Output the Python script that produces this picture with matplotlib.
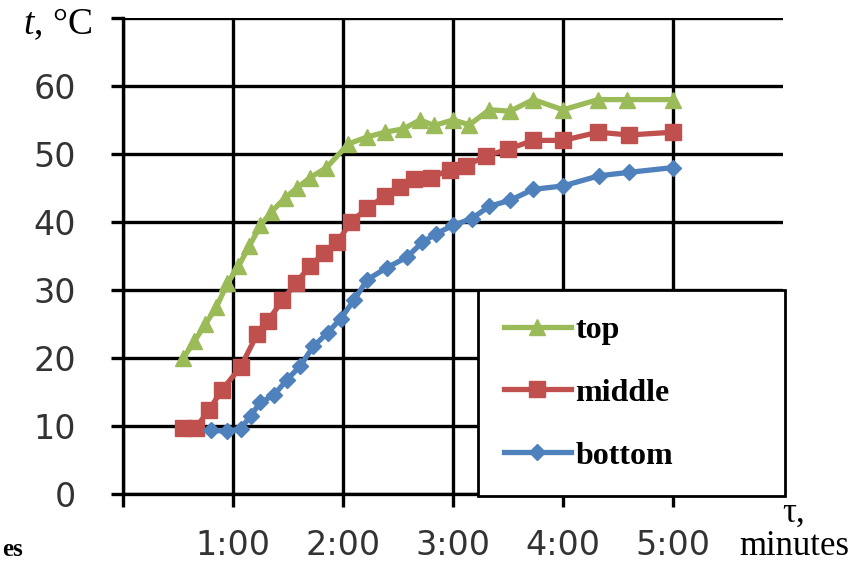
import numpy as np
import matplotlib
matplotlib.use('Agg')
import matplotlib.pyplot as plt

plt.rcParams['mathtext.fontset'] = 'custom'
plt.rcParams['mathtext.it'] = 'Liberation Serif:italic'
plt.rcParams['mathtext.rm'] = 'Liberation Serif'

# time in minutes (1.0 = 1:00), temperature in degrees C
top_x = [0.55, 0.65, 0.75, 0.85, 0.95, 1.05, 1.15, 1.25, 1.35, 1.47, 1.58, 1.70, 1.85,
         2.05, 2.22, 2.38, 2.55, 2.70, 2.83, 3.00, 3.15, 3.33, 3.52, 3.73, 4.00, 4.32, 4.58, 5.00]
top_y = [20.0, 22.5, 25.0, 27.5, 31.0, 33.5, 36.5, 39.5, 41.5, 43.5, 45.0, 46.5, 48.0,
         51.5, 52.5, 53.2, 53.7, 55.0, 54.2, 55.0, 54.3, 56.5, 56.3, 58.0, 56.5, 58.0, 58.0, 58.0]

mid_x = [0.55, 0.66, 0.78, 0.90, 1.07, 1.22, 1.32, 1.45, 1.57, 1.70, 1.83, 1.95, 2.07,
         2.22, 2.38, 2.52, 2.65, 2.80, 2.97, 3.12, 3.30, 3.50, 3.73, 4.00, 4.32, 4.60, 5.00]
mid_y = [9.7, 9.7, 12.3, 15.3, 18.7, 23.5, 25.5, 28.5, 31.0, 33.5, 35.5, 37.0, 40.0,
         42.0, 43.8, 45.2, 46.3, 46.5, 47.7, 48.3, 49.7, 50.7, 52.0, 52.0, 53.2, 52.8, 53.2]

bot_x = [0.80, 0.95, 1.07, 1.16, 1.25, 1.37, 1.49, 1.61, 1.73, 1.86, 1.98, 2.10, 2.22,
         2.40, 2.58, 2.72, 2.85, 3.00, 3.17, 3.33, 3.52, 3.73, 4.00, 4.33, 4.60, 5.00]
bot_y = [9.4, 9.2, 9.6, 11.5, 13.5, 14.5, 16.8, 18.8, 21.7, 23.7, 25.8, 28.5, 31.5,
         33.3, 34.8, 37.0, 38.3, 39.5, 40.5, 42.3, 43.2, 44.8, 45.3, 46.8, 47.3, 48.0]

x_ticks = [0, 1, 2, 3, 4, 5]
x_labels = ['', '1:00', '2:00', '3:00', '4:00', '5:00']
y_ticks = [0, 10, 20, 30, 40, 50, 60, 70]
y_labels = ['0', '10', '20', '30', '40', '50', '60', '']

fig = plt.figure(figsize=(8.68, 5.64), dpi=100)
ax = fig.add_axes([0.1417, 0.1241, 0.7603, 0.8440])

ax.plot(top_x, top_y, color='#9BBB59', lw=3.8, marker='^', ms=12, label='top', zorder=5)
ax.plot(mid_x, mid_y, color='#C0504D', lw=3.8, marker='s', ms=11, label='middle', zorder=5)
ax.plot(bot_x, bot_y, color='#4F81BD', lw=3.8, marker='D', ms=8, label='bottom', zorder=5)

ax.set_xlim(0, 6)
ax.set_ylim(0, 70)
ax.set_xticks(x_ticks)
ax.set_xticklabels(x_labels)
ax.set_yticks(y_ticks)
ax.set_yticklabels(y_labels)
ax.grid(True, color='black', lw=2.4)
ax.set_axisbelow(True)
for s in ['top', 'right']:
    ax.spines[s].set_visible(False)
for s in ['left', 'bottom']:
    ax.spines[s].set_linewidth(2.4)
ax.tick_params(axis='both', direction='out', length=9, width=2.4, labelsize=24,
               labelcolor='#333333')
ax.tick_params(axis='y', pad=25)
ax.tick_params(axis='x', pad=16)

leg = ax.legend(loc='upper left', bbox_to_anchor=(0.538, 0.004, 0.465, 0.425), mode='expand',
                prop={'family': 'Liberation Serif', 'size': 23, 'weight': 'bold'},
                labelspacing=1.05, borderpad=0.8, borderaxespad=0, handlelength=2.1,
                handletextpad=0.15, fancybox=False, framealpha=1, edgecolor='black')
leg.get_frame().set_linewidth(2)
leg.set_zorder(10)

fig.text(92 / 868, 1 - 24 / 564, r'$t$, °C', ha='right', va='center',
         family='Liberation Serif', fontsize=27)
fig.text(794 / 868, 1 - 530 / 564, 'τ,\nminutes', ha='center', va='center',
         family='Liberation Serif', fontsize=25, linespacing=1.0)
fig.text(0.002, 1 - 550 / 564, 'es', ha='left', va='center',
         family='Liberation Serif', fontsize=18, weight='bold')

fig.savefig('out.png', dpi=100)
